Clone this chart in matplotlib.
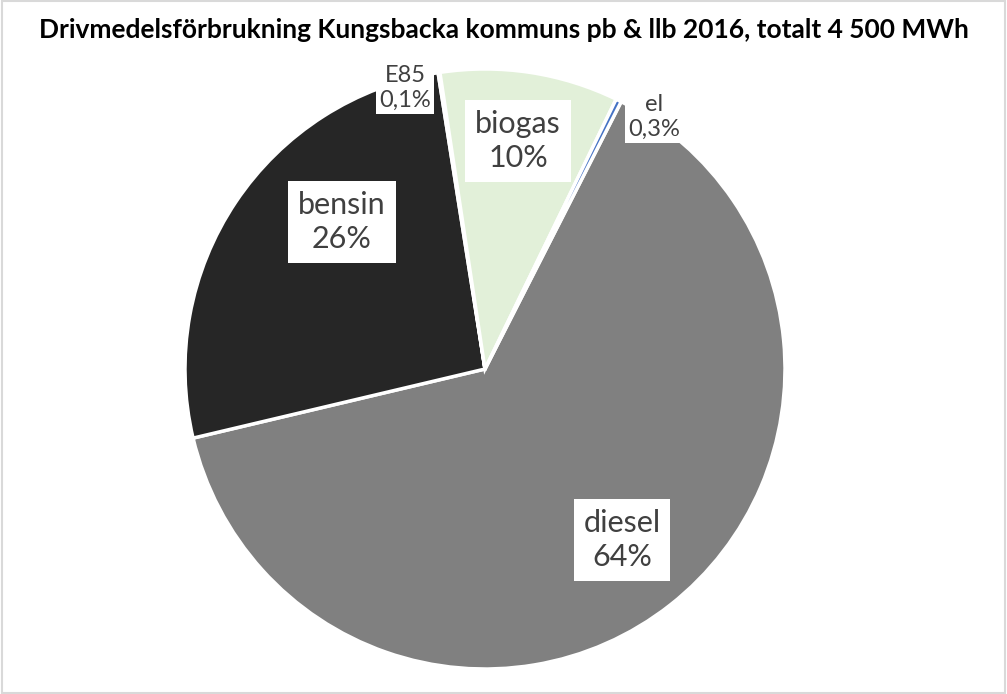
import matplotlib.pyplot as plt

# andelar i procent, medurs från "el"-gränsen
kategorier = ["diesel", "bensin", "E85", "biogas", "el"]
andelar = [63.8, 26.2, 0.1, 9.6, 0.3]
etiketter = ["diesel\n64%", "bensin\n26%", "E85\n0,1%", "biogas\n10%", "el\n0,3%"]
farger = ["#808080", "#262626", "#A5A5A5", "#E2F0D9", "#4472C4"]

plt.rcParams['font.family'] = ['Lato', 'DejaVu Sans']

fig = plt.figure(figsize=(10.07, 6.94), dpi=100)
W, H = 1007, 694
cx, cy, r = 485, 369, 300


def to_data(px, py):
    return (px - cx) / r, (cy - py) / r


ax = fig.add_axes([(cx - r) / W, (H - cy - r) / H, 2 * r / W, 2 * r / H])
ax.pie(andelar, colors=farger, startangle=63, counterclock=False,
       wedgeprops=dict(edgecolor="white", linewidth=2.5))
ax.set_xlim(-1, 1)
ax.set_ylim(-1, 1)
ax.set_aspect("equal")
ax.axis("off")

# etikettpositioner i pixlar
pos = {"diesel": (622, 540), "bensin": (342, 222), "E85": (405, 88),
       "biogas": (518, 141), "el": (654, 117)}
storlek = {"diesel": 22, "bensin": 22, "E85": 17, "biogas": 22, "el": 17}

for kat, txt in zip(kategorier, etiketter):
    x, y = to_data(*pos[kat])
    stor = storlek[kat] > 18
    ax.text(x, y, txt, ha="center", va="center", fontsize=storlek[kat],
            color="#404040", linespacing=1.3 if stor else 1.2,
            bbox=dict(facecolor="white", edgecolor="none",
                      pad=7 if stor else 2.5))

fig.text(0.5, 1 - 30 / H, "Drivmedelsförbrukning Kungsbacka kommuns pb & llb 2016, totalt 4 500 MWh",
         ha="center", va="center", fontsize=19, fontweight="bold", color="black")

# tunn grå ram runt diagrammet
fig.patches.append(plt.Rectangle((0.002, 0.002), 0.996, 0.996, transform=fig.transFigure,
                                 fill=False, edgecolor="#D9D9D9", linewidth=1.5))

fig.savefig("out.png", dpi=100, facecolor="white")
